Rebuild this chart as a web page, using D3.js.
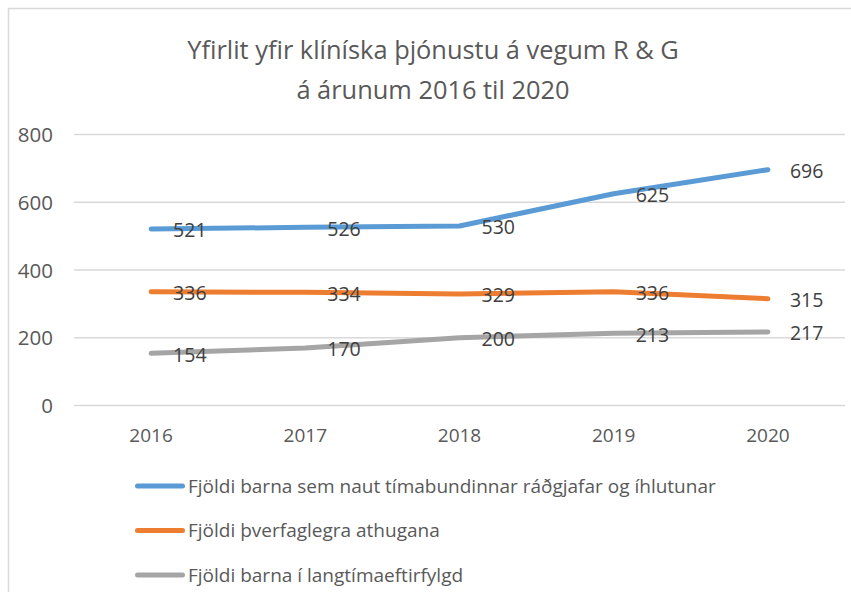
<!DOCTYPE html>
<html>
<head>
<meta charset="utf-8">
<script src="https://cdn.jsdelivr.net/npm/d3@7"></script>
<style>
  body { margin: 0; background: #fff; }
  text { font-family: "Open Sans", sans-serif; }
</style>
</head>
<body>
<div id="chart"></div>
<script>
// chart data
const years = ["2016", "2017", "2018", "2019", "2020"];
const seriesNames = [
  "Fjöldi barna sem naut tímabundinnar ráðgjafar og íhlutunar",
  "Fjöldi þverfaglegra athugana",
  "Fjöldi barna í langtímaeftirfylgd"
];
const radgjof = [521, 526, 530, 625, 696];
const athuganir = [336, 334, 329, 336, 315];
const eftirfylgd = [154, 170, 200, 213, 217];
const yTicks = [0, 200, 400, 600, 800];
const colors = ["#5b9bd5", "#ed7d31", "#a5a5a5"];

const allSeries = [radgjof, athuganir, eftirfylgd];

const width = 851, height = 592;
const margin = {top: 134.5, right: 6, bottom: 186.5, left: 74};

const svg = d3.select("#chart").append("svg")
    .attr("width", width)
    .attr("height", height);

// outer frame (only left/top edges visible in the picture)
svg.append("path")
    .attr("d", `M8.5,${height}V8.5H${width}`)
    .attr("fill", "none")
    .attr("stroke", "#d9d9d9")
    .attr("stroke-width", 1.5);

const x = d3.scaleBand()
    .domain(years)
    .range([margin.left, width - margin.right]);

const y = d3.scaleLinear()
    .domain([0, 800])
    .range([height - margin.bottom, margin.top]);

// title
svg.append("text")
    .attr("text-anchor", "middle")
    .attr("fill", "#595959")
    .style("font-size", "25.4px")
    .selectAll("tspan")
    .data(["Yfirlit yfir klíníska þjónustu á vegum R & G", "á árunum 2016 til 2020"])
    .join("tspan")
    .attr("x", 433)
    .attr("y", (d, i) => 59 + i * 40)
    .text(d => d);

// gridlines
svg.append("g")
    .selectAll("line")
    .data(yTicks)
    .join("line")
    .attr("x1", margin.left)
    .attr("x2", width - margin.right)
    .attr("y1", d => y(d))
    .attr("y2", d => y(d))
    .attr("stroke", "#d9d9d9")
    .attr("stroke-width", 1.5);

// y axis
const yAxis = svg.append("g")
    .attr("transform", `translate(${margin.left - 21},0)`)
    .call(d3.axisLeft(y).tickValues(yTicks).tickSize(0).tickPadding(0));
yAxis.select(".domain").remove();
yAxis.selectAll("text")
    .attr("fill", "#595959")
    .style("font-size", "20.5px")
    .attr("dy", "0.35em");

// x axis
const xAxis = svg.append("g")
    .attr("transform", `translate(0,${y(0) + 23})`)
    .call(d3.axisBottom(x).tickSize(0).tickPadding(0));
xAxis.select(".domain").remove();
xAxis.selectAll("text")
    .attr("fill", "#595959")
    .style("font-size", "19px");

const line = d3.line()
    .x((d, i) => x(years[i]) + x.bandwidth() / 2)
    .y(d => y(d));

// series lines
svg.append("g")
    .selectAll("path")
    .data(allSeries)
    .join("path")
    .attr("d", d => line(d))
    .attr("fill", "none")
    .attr("stroke", (d, i) => colors[i])
    .attr("stroke-width", 5)
    .attr("stroke-linecap", "round")
    .attr("stroke-linejoin", "round");

// data labels
allSeries.forEach((s, si) => {
  svg.append("g")
    .selectAll("text")
    .data(s)
    .join("text")
    .attr("x", (d, i) => x(years[i]) + x.bandwidth() / 2 + 22)
    .attr("y", d => y(d) + 1.5)
    .attr("dy", "0.35em")
    .attr("fill", "#404040")
    .style("font-size", "19.5px")
    .text(d => d);
});

// legend
const legend = svg.append("g")
    .selectAll("g")
    .data(seriesNames)
    .join("g")
    .attr("transform", (d, i) => `translate(135,${486 + i * 44.5})`);

legend.append("line")
    .attr("x1", 2.5)
    .attr("x2", 47.5)
    .attr("stroke", (d, i) => colors[i])
    .attr("stroke-width", 5)
    .attr("stroke-linecap", "round");

legend.append("text")
    .attr("x", 53)
    .attr("dy", "0.35em")
    .attr("fill", "#595959")
    .style("font-size", "19px")
    .text(d => d);
</script>
</body>
</html>
